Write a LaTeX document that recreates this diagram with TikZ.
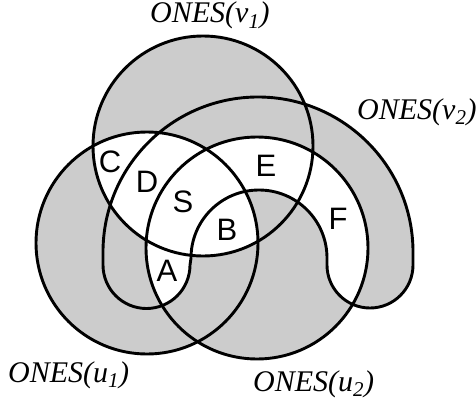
\documentclass[tikz,border=0pt]{standalone}
\usepackage{fontspec}
\setmainfont{Liberation Serif}
\setsansfont{Liberation Sans}
\definecolor{fillgray}{RGB}{204,204,204}
\tikzset{
  setline/.style={line width=2.9pt, draw=black},
  lab/.style={font=\fontsize{30}{30}\selectfont\itshape, anchor=base west, inner sep=0pt},
  reg/.style={font=\fontsize{31}{31}\selectfont\sffamily, inner sep=0pt}
}
\begin{document}
\begin{tikzpicture}[x=1pt, y=-1pt]
\useasboundingbox (0,0) rectangle (476,404);
% gray union
\fill[fillgray] (203,146) circle[radius=110];
\fill[fillgray] (147,243) circle[radius=111];
\fill[fillgray] (257,248) circle[radius=111];
\fill[fillgray] (103,265) -- (103,252) arc[start angle=180, end angle=360, radius=155]
  -- (413,265) arc[start angle=0, end angle=180, radius=43]
  -- (327,258) arc[start angle=0, end angle=-180, radius=68]
  -- (190,265) arc[start angle=0, end angle=180, radius=43.5] -- cycle;
% white regions
\begin{scope}
  \clip (203,146) circle[radius=110];
  \fill[white] (147,243) circle[radius=111];
\end{scope}
\begin{scope}
  \clip (257,248) circle[radius=111];
  \fill[white] (103,265) -- (103,252) arc[start angle=180, end angle=360, radius=155]
    -- (413,265) arc[start angle=0, end angle=180, radius=43]
    -- (327,258) arc[start angle=0, end angle=-180, radius=68]
    -- (190,265) arc[start angle=0, end angle=180, radius=43.5] -- cycle;
\end{scope}
% outlines
\draw[setline] (203,146) circle[radius=110];
\draw[setline] (147,243) circle[radius=111];
\draw[setline] (257,248) circle[radius=111];
\draw[setline, line join=round] (103,265) -- (103,252) arc[start angle=180, end angle=360, radius=155]
  -- (413,265) arc[start angle=0, end angle=180, radius=43]
  -- (327,258) arc[start angle=0, end angle=-180, radius=68]
  -- (190,265) arc[start angle=0, end angle=180, radius=43.5] -- cycle;
% region letters
\node[reg] (rC) at (110,162) {C};
\node[reg] (rD) at (147,182) {D};
\node[reg] (rS) at (183,202) {S};
\node[reg] (rB) at (227,230) {B};
\node[reg] (rA) at (167,271) {A};
\node[reg] (rE) at (266,166) {E};
\node[reg] (rF) at (338,219) {F};
% set labels
\node[lab] (lv1) at (150,23) {ONES(v\textsubscript{1})};
\node[lab] (lv2) at (357,119) {ONES(v\textsubscript{2})};
\node[lab] (lu1) at (8,382) {ONES(u\textsubscript{1})};
\node[lab] (lu2) at (253,391) {ONES(u\textsubscript{2})};
\end{tikzpicture}
\end{document}
